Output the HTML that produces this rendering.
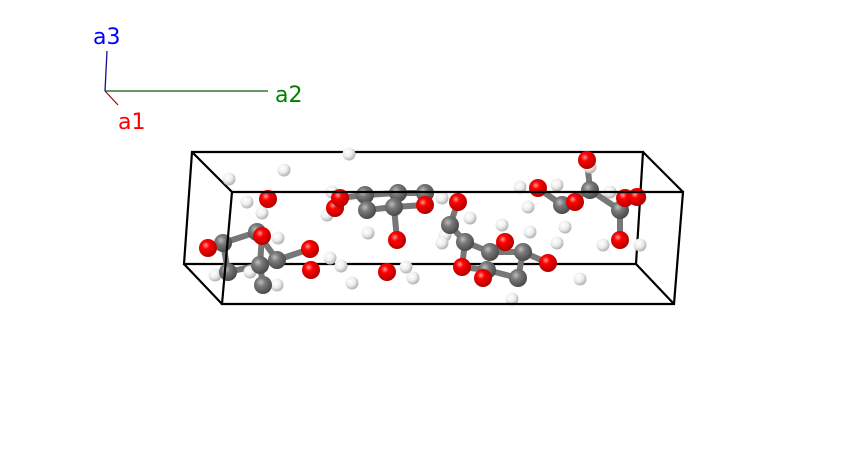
<!DOCTYPE html>
<html><head><meta charset="utf-8"><style>html,body{margin:0;padding:0;background:#fff}svg{display:block}</style></head>
<body>
<svg width="867" height="457" viewBox="0 0 867 457" xmlns="http://www.w3.org/2000/svg">
<defs>
<radialGradient id="gO" cx="0.38" cy="0.35" r="0.7"><stop offset="0" stop-color="#ff9a9a"/><stop offset="0.3" stop-color="#f00"/><stop offset="1" stop-color="#a00"/></radialGradient>
<radialGradient id="gC" cx="0.38" cy="0.35" r="0.7"><stop offset="0" stop-color="#bdbdbd"/><stop offset="0.35" stop-color="#7a7a7a"/><stop offset="1" stop-color="#444"/></radialGradient>
<radialGradient id="gH" cx="0.38" cy="0.35" r="0.7"><stop offset="0" stop-color="#fff"/><stop offset="0.5" stop-color="#eee"/><stop offset="1" stop-color="#aaa"/></radialGradient>
</defs>
<line x1="105" y1="91" x2="268" y2="91" stroke="#0a5a0a" stroke-width="1.3"/>
<line x1="105" y1="91" x2="107" y2="51" stroke="#10108a" stroke-width="1.3"/>
<line x1="105" y1="91" x2="118" y2="105" stroke="#8a1010" stroke-width="1.2"/>
<g font-family="DejaVu Sans, sans-serif" font-size="22">
<text x="93" y="44" fill="#0000ff">a3</text>
<text x="275" y="102" fill="#008000">a2</text>
<text x="118" y="129" fill="#ff0000">a1</text>
</g>
<g stroke="#000" stroke-width="2.2" fill="none">
<polygon points="192,152 643,152 636,264 184,264"/>
<line x1="192" y1="152" x2="232" y2="192"/>
<line x1="643" y1="152" x2="683" y2="192"/>
<line x1="636" y1="264" x2="674" y2="304"/>
<line x1="184" y1="264" x2="222" y2="304"/>
</g>
<g stroke="#777" stroke-width="6" stroke-linecap="round">
<line x1="223" y1="243" x2="257" y2="232"/><line x1="257" y1="232" x2="277" y2="260"/>
<line x1="223" y1="243" x2="228" y2="272"/><line x1="228" y1="272" x2="260" y2="265"/>
<line x1="260" y1="265" x2="263" y2="285"/><line x1="260" y1="265" x2="277" y2="260"/>
<line x1="208" y1="248" x2="223" y2="243"/><line x1="277" y1="260" x2="310" y2="249"/>
<line x1="262" y1="236" x2="260" y2="265"/>
<line x1="365" y1="195" x2="398" y2="193"/><line x1="367" y1="210" x2="394" y2="207"/>
<line x1="398" y1="193" x2="425" y2="193"/><line x1="394" y1="207" x2="397" y2="240"/>
<line x1="340" y1="198" x2="365" y2="195"/><line x1="394" y1="207" x2="425" y2="205"/>
<line x1="458" y1="202" x2="450" y2="225"/><line x1="450" y1="225" x2="465" y2="242"/>
<line x1="465" y1="242" x2="490" y2="252"/><line x1="490" y1="252" x2="523" y2="252"/>
<line x1="465" y1="242" x2="462" y2="267"/><line x1="462" y1="267" x2="487" y2="270"/>
<line x1="487" y1="270" x2="518" y2="278"/><line x1="523" y1="252" x2="518" y2="278"/>
<line x1="523" y1="252" x2="548" y2="263"/><line x1="490" y1="252" x2="505" y2="242"/>
<line x1="590" y1="190" x2="587" y2="160"/><line x1="590" y1="190" x2="562" y2="205"/>
<line x1="590" y1="190" x2="620" y2="210"/><line x1="620" y1="210" x2="620" y2="240"/>
<line x1="562" y1="205" x2="538" y2="188"/><line x1="620" y1="210" x2="625" y2="198"/>
</g>
<g stroke-width="0">
<g fill="url(#gH)">
<circle cx="349" cy="154" r="6.5"/><circle cx="284" cy="170" r="6.5"/><circle cx="229" cy="179" r="6.5"/>
<circle cx="247" cy="202" r="6.5"/><circle cx="262" cy="213" r="6.5"/><circle cx="278" cy="238" r="6.5"/>
<circle cx="215" cy="275" r="6.5"/><circle cx="277" cy="285" r="6.5"/><circle cx="330" cy="258" r="6.5"/>
<circle cx="341" cy="266" r="6.5"/><circle cx="352" cy="283" r="6.5"/><circle cx="413" cy="278" r="6.5"/>
<circle cx="406" cy="267" r="6.5"/><circle cx="327" cy="215" r="6.5"/><circle cx="368" cy="233" r="6.5"/>
<circle cx="332" cy="192" r="6.5"/><circle cx="250" cy="272" r="6.5"/><circle cx="442" cy="198" r="6.5"/>
<circle cx="590" cy="167" r="6.5"/><circle cx="520" cy="187" r="6.5"/><circle cx="557" cy="185" r="6.5"/>
<circle cx="610" cy="192" r="6.5"/><circle cx="528" cy="207" r="6.5"/><circle cx="565" cy="227" r="6.5"/>
<circle cx="640" cy="198" r="6.5"/><circle cx="640" cy="245" r="6.5"/><circle cx="603" cy="245" r="6.5"/>
<circle cx="557" cy="243" r="6.5"/><circle cx="530" cy="232" r="6.5"/><circle cx="502" cy="225" r="6.5"/>
<circle cx="470" cy="218" r="6.5"/><circle cx="445" cy="235" r="6.5"/><circle cx="442" cy="243" r="6.5"/>
<circle cx="580" cy="279" r="6.5"/><circle cx="512" cy="299" r="6.5"/>
</g>
<g fill="url(#gC)">
<circle cx="223" cy="243" r="9"/><circle cx="257" cy="232" r="9"/><circle cx="277" cy="260" r="9"/>
<circle cx="260" cy="265" r="9"/><circle cx="228" cy="272" r="9"/><circle cx="263" cy="285" r="9"/>
<circle cx="365" cy="195" r="9"/><circle cx="367" cy="210" r="9"/><circle cx="398" cy="193" r="9"/>
<circle cx="394" cy="207" r="9"/><circle cx="425" cy="193" r="9"/>
<circle cx="590" cy="190" r="9"/><circle cx="562" cy="205" r="9"/><circle cx="620" cy="210" r="9"/>
<circle cx="450" cy="225" r="9"/><circle cx="465" cy="242" r="9"/><circle cx="490" cy="252" r="9"/>
<circle cx="523" cy="252" r="9"/><circle cx="487" cy="270" r="9"/><circle cx="518" cy="278" r="9"/>
</g>
<g fill="url(#gO)">
<circle cx="268" cy="199" r="9"/><circle cx="208" cy="248" r="9"/><circle cx="262" cy="236" r="9"/>
<circle cx="310" cy="249" r="9"/><circle cx="311" cy="270" r="9"/><circle cx="335" cy="208" r="9"/>
<circle cx="340" cy="198" r="9"/><circle cx="397" cy="240" r="9"/><circle cx="387" cy="272" r="9"/>
<circle cx="425" cy="205" r="9"/><circle cx="458" cy="202" r="9"/>
<circle cx="587" cy="160" r="9"/><circle cx="538" cy="188" r="9"/><circle cx="575" cy="202" r="9"/>
<circle cx="625" cy="198" r="9"/><circle cx="637" cy="197" r="9"/><circle cx="505" cy="242" r="9"/>
<circle cx="548" cy="263" r="9"/><circle cx="462" cy="267" r="9"/><circle cx="483" cy="278" r="9"/>
<circle cx="620" cy="240" r="9"/>
</g>
</g>
<g stroke="#000" stroke-width="2.2" fill="none">
<polygon points="232,192 683,192 674,304 222,304"/>
</g>
</svg>
</body></html>
